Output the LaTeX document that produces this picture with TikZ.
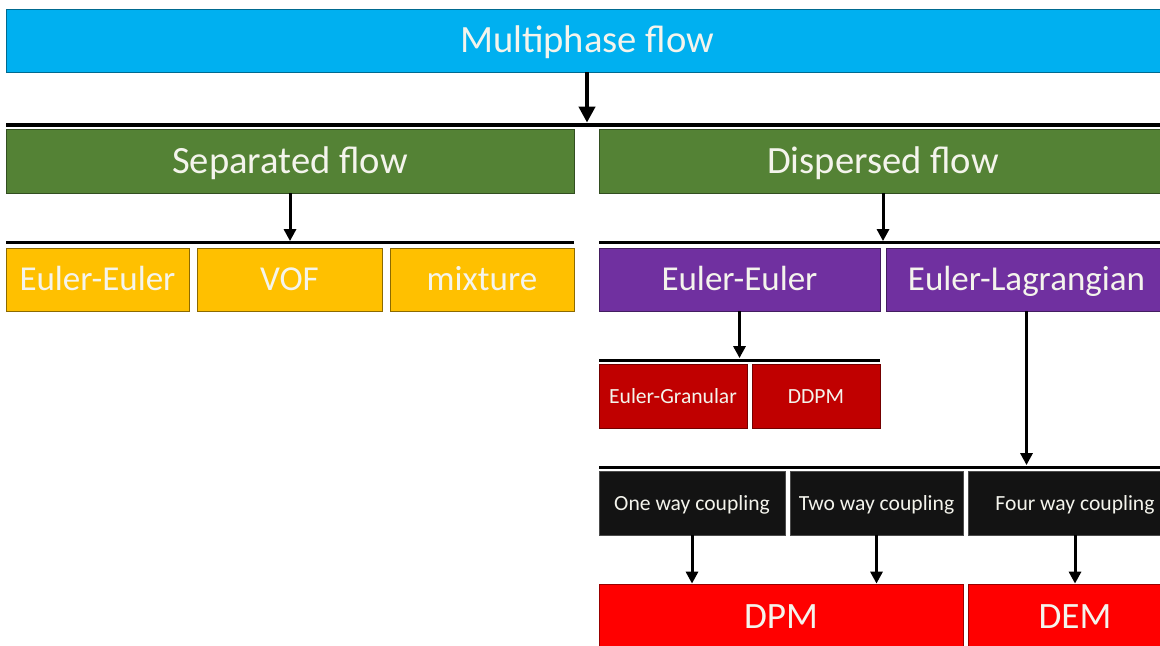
\documentclass[tikz,border=0pt]{standalone}
\usepackage{fontspec}
\setmainfont{Carlito}
\usetikzlibrary{arrows.meta}

\definecolor{mpblue}{HTML}{00B0F0}
\definecolor{mpgreen}{HTML}{548235}
\definecolor{mpyellow}{HTML}{FFC000}
\definecolor{mppurple}{HTML}{7030A0}
\definecolor{mpdarkred}{HTML}{C00000}
\definecolor{mpblack}{HTML}{131313}
\definecolor{mpred}{HTML}{FF0000}
\definecolor{mptext}{HTML}{F4F4EC}

\begin{document}
\begin{tikzpicture}[
  x=0.5pt, y=-0.5pt,
  box/.style={draw,line width=0.4pt,inner sep=0pt,align=center,text=mptext,
              text depth=0pt},
  bigtxt/.style={font=\fontsize{19.3}{23}\selectfont,text height=12.4pt},
  midtxt/.style={font=\fontsize{17.5}{21}\selectfont,text height=11.3pt},
  smalltxt/.style={font=\fontsize{10.8}{13}\selectfont,text height=7pt},
  level0/.style={box,bigtxt,fill=mpblue,draw=mpblue!60!black,minimum height=31.5pt},
  level1/.style={box,bigtxt,fill=mpgreen,draw=mpgreen!60!black,minimum height=32pt,minimum width=284pt},
  sepmodel/.style={box,midtxt,fill=mpyellow,draw=mpyellow!55!black,minimum height=31.5pt},
  dispmodel/.style={box,midtxt,fill=mppurple,draw=mppurple!60!black,minimum height=31.5pt,minimum width=140.5pt},
  eemodel/.style={box,smalltxt,fill=mpdarkred,draw=mpdarkred!60!black,minimum height=32pt},
  coupling/.style={box,smalltxt,fill=mpblack,draw=gray!60!black,minimum height=32pt},
  solver/.style={box,font=\fontsize{18.6}{22}\selectfont,text height=12pt,fill=mpred,draw=mpred!60!black,minimum height=32pt},
  bar/.style={fill=black,inner sep=0pt,minimum height=1.5pt},
  arr/.style={-{Triangle[length=6pt,width=6pt]},line width=1.5pt},
]
\useasboundingbox (0,0) rectangle (1160,646);
\clip (0,0) rectangle (1160,646);

% ---- Top level --------------------------------------------------------------
\node[level0,minimum width=581pt] (mpf) at (587,40.5) {Multiphase flow};
\node[bar,minimum width=581pt,minimum height=2pt] (bar1) at (587,125) {};

% ---- Separated / dispersed --------------------------------------------------
\node[level1] (sep)  at (290,161) {Separated flow};
\node[level1] (disp) at (883,161) {Dispersed flow};

\node[bar,minimum width=284pt] (bar2L) at (290,243) {};
\node[bar,minimum width=284pt] (bar2R) at (883,243) {};

% ---- Separated flow models --------------------------------------------------
\node[sepmodel,minimum width=91.5pt] (sepEE)  at (97.5,279.5)  {Euler-Euler};
\node[sepmodel,minimum width=92.5pt] (sepVOF) at (289.5,279.5) {VOF};
\node[sepmodel,minimum width=92pt]   (sepMix) at (482,279.5)   {mixture};

% ---- Dispersed flow models --------------------------------------------------
\node[dispmodel] (dispEE) at (739.5,279.5)  {Euler-Euler};
\node[dispmodel] (dispEL) at (1026.5,279.5) {Euler-Lagrangian};

\node[bar,minimum width=140.5pt] (bar3) at (739.5,360) {};
\node[eemodel,minimum width=74pt] (eeGran) at (673,396) {Euler-Granular};
\node[eemodel,minimum width=64pt] (eeDDPM) at (816,396) {DDPM};

% ---- Coupling ---------------------------------------------------------------
\node[bar,minimum width=284pt] (bar4) at (883,467) {};
\node[coupling,minimum width=93pt]   (oneway)  at (692,503)   {One way coupling};
\node[coupling,minimum width=86.5pt] (twoway)  at (876.5,503) {Two way coupling};
\node[coupling,minimum width=107pt]  (fourway) at (1075,503)  {Four way coupling};

\node[solver,minimum width=182pt] (dpm) at (781,616)  {DPM};
\node[solver,minimum width=107pt] (dem) at (1075,616) {DEM};

% ---- Arrows -----------------------------------------------------------------
\draw[arr,line width=2pt,-{Triangle[length=8pt,width=8pt]}] (mpf.south) -- (mpf.south |- bar1.north);
\draw[arr] (sep.south) -- (sep.south |- bar2L.north);
\draw[arr] (disp.south) -- (disp.south |- bar2R.north);
\draw[arr] (dispEE.south) -- (dispEE.south |- bar3.north);
\draw[arr] (dispEL.south) -- (dispEL.south |- bar4.north);
\draw[arr] (oneway.south) -- (oneway.south |- dpm.north);
\draw[arr] (twoway.south) -- (twoway.south |- dpm.north);
\draw[arr] (fourway.south) -- (dem.north);

\end{tikzpicture}
\end{document}
